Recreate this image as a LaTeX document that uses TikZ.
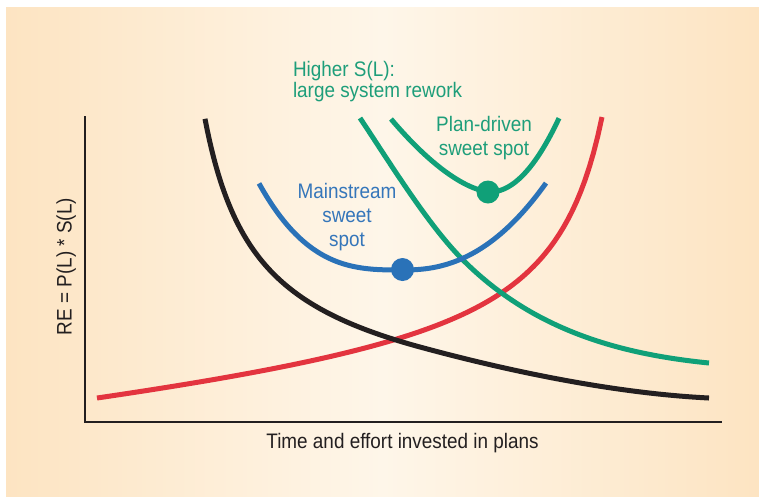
\documentclass[tikz,border=0pt]{standalone}
\usepackage{fontspec}
\setmainfont{Liberation Sans}[FakeStretch=0.9]
\definecolor{peach}{HTML}{FDE4C2}
\definecolor{cream}{HTML}{FEF6E9}
\definecolor{inkblack}{HTML}{231F20}
\definecolor{inkred}{HTML}{E3343F}
\definecolor{inkgreen}{HTML}{10A078}
\definecolor{inkblue}{HTML}{2A72B8}
\definecolor{textgreen}{HTML}{1E9E7A}
\definecolor{textblue}{HTML}{3576BA}
\begin{document}
\begin{tikzpicture}[x=1pt,y=-1pt,
  curve/.style={line width=5pt},
  axisline/.style={line width=2pt, draw=inkblack},
  lab/.style={font=\fontsize{21}{23}\selectfont, inner sep=0pt, outer sep=0pt},
  spotdot/.style={circle, inner sep=0pt, minimum size=23pt}]
\useasboundingbox (0,0) rectangle (759,496);
\fill[white] (0,0) rectangle (759,496);
\shade[left color=peach, right color=peach, middle color=cream] (6,7) rectangle (759,496);

% axes
\coordinate (ytop) at (85,116);
\coordinate (origin) at (85,422);
\coordinate (xend) at (722,422);
\draw[axisline] (ytop) -- (origin) -- (xend);

% red curve
\draw[curve, inkred] plot[domain=97:602, samples=120] (\x, {432.07-0.104*\x-13379/(655-\x)});
% black curve
\draw[curve, inkblack] plot[domain=205:420, samples=100] (\x, {358.38+0.08869*\x-12886/(\x-155)})
  .. controls (500,368.8) and (609,393) .. (709,398);
% big green curve
\draw[curve, inkgreen] (360,118) .. controls (390,163) and (428,225) .. (463,260)
  .. controls (533,330) and (619,354) .. (709,363);
% blue curve
\draw[curve, inkblue] plot[domain=259:402.8, samples=60] (\x, {270-29*((403-\x)/100)^3})
  -- plot[domain=403.2:546, samples=60] (\x, {270-38.2*((\x-403)/100)^2.3});
% small green curve
\draw[curve, inkgreen] plot[domain=391:489.8, samples=50] (\x, {192-73*((490-\x)/99)^1.6})
  -- plot[domain=490.2:559, samples=40] (\x, {192-0.0155*(\x-490)^2});

% dots
\node[spotdot, fill=inkblue] (bdot) at (402.5,269.5) {};
\node[spotdot, fill=inkgreen] (gdot) at (488,192) {};

% labels
\node[lab, text=textgreen, anchor=base west] (hs1) at (293,76.7) {Higher S(L):};
\node[lab, text=textgreen, anchor=base west] (hs2) at (293,97.7) {large system rework};
\node[lab, text=textgreen, anchor=base] (pd1) at (484,131.7) {Plan-driven};
\node[lab, text=textgreen, anchor=base] (pd2) at (484,155) {sweet spot};
\node[lab, text=textblue, anchor=base] (ms1) at (347,198.3) {Mainstream};
\node[lab, text=textblue, anchor=base] (ms2) at (347,222.5) {sweet};
\node[lab, text=textblue, anchor=base] (ms3) at (347,246) {spot};
\node[lab, text=inkblack, anchor=base] (xlab) at (402.5,448) {Time and effort invested in plans};
\node[lab, text=inkblack, anchor=base, rotate=90] (ylab) at (71.5,266.5) {RE = P(L) * S(L)};
\end{tikzpicture}
\end{document}
